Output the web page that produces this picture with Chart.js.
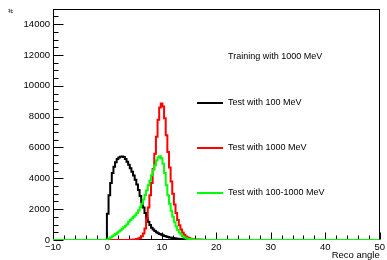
<!DOCTYPE html>
<html>
<head>
<meta charset="utf-8">
<script src="https://cdn.jsdelivr.net/npm/chart.js@4.4.1/dist/chart.umd.min.js"></script>
<style>
  html, body { margin: 0; padding: 0; background: #fff; }
  canvas { display: block; }
</style>
</head>
<body>
<canvas id="c" width="387" height="260"></canvas>
<script>
// histogram binning (Reco angle), fine bins starting just below 0
const binLow = -0.1;
const binWidth = 0.3;

// bin contents, bin 0 = [-0.1, 0.2]
const test100 = [1700, 2900, 3700, 4350, 4750, 5050, 5250, 5350, 5400, 5420,
  5380, 5250, 5080, 4880, 4650, 4420, 4180, 3900, 3600, 3250,
  2850, 2450, 2100, 1750, 1430, 1180, 970, 800, 680, 580,
  500, 440, 390, 340, 300, 260, 225, 195, 170, 148,
  128, 110, 95, 82, 71, 62, 54, 47, 41, 36,
  31, 27, 23, 20, 17, 15, 13, 11, 9, 8,
  7, 6, 5, 4, 4, 3, 3, 2, 2, 1, 1];

const test1000 = [0, 0, 0, 0, 0, 0, 0, 0, 0, 0,
  0, 0, 0, 5, 10, 15, 25, 40, 60, 90,
  150, 250, 420, 750, 1400, 2100, 2900, 3700, 4600, 5600,
  6700, 7800, 8600, 8850, 8650, 7900, 6800, 5700, 4700, 3800,
  3000, 2300, 1750, 1300, 950, 680, 480, 340, 235, 160,
  110, 75, 50, 33, 22, 15, 10, 6, 4, 2, 1];

const test100to1000 = [40, 100, 170, 240, 310, 390, 470, 550, 640, 730,
  820, 920, 1020, 1180, 1300, 1400, 1500, 1610, 1750, 1920,
  2120, 2350, 2620, 2920, 3230, 3550, 3850, 4200, 4550, 4850,
  5150, 5350, 5430, 5300, 4950, 4350, 3550, 2900, 2350, 1900,
  1500, 1150, 880, 650, 480, 350, 250, 175, 120, 85,
  60, 42, 30, 21, 15, 10, 7, 5, 3, 2, 1];

const seriesLabels = ["Test with 100 MeV", "Test with 1000 MeV", "Test with 100-1000 MeV"];
const seriesColors = ["#000000", "#ff0000", "#00ff00"];
const legendHeader = "Training with 1000 MeV";

// axis ranges and labelled ticks
const xMin = -10, xMax = 50;
const yMin = 0, yMax = 15000;
const xTickValues = [-10, 0, 10, 20, 30, 40, 50];
const yTickValues = [0, 2000, 4000, 6000, 8000, 10000, 12000, 14000];

const FONT = "'Liberation Sans', Arial, Helvetica, sans-serif";

// turn bin contents into step points spanning the whole axis
function histPoints(counts) {
  const pts = [{ x: xMin, y: 0 }];
  counts.forEach((c, i) => pts.push({ x: binLow + i * binWidth, y: c }));
  pts.push({ x: binLow + counts.length * binWidth, y: 0 });
  pts.push({ x: xMax, y: 0 });
  return pts;
}

// ROOT-like frame with inward ticks
const frameTicks = {
  id: "frameTicks",
  beforeDatasetsDraw(chart) {
    const { ctx, chartArea: a, scales } = chart;
    const sx = scales.x, sy = scales.y;
    ctx.save();
    ctx.strokeStyle = "#000";
    ctx.lineWidth = 1;
    const L = Math.round(a.left) + 0.5, R = Math.round(a.right) - 0.5;
    const T = Math.round(a.top) + 0.5, B = Math.round(a.bottom) - 0.5;
    ctx.strokeRect(L, T, R - L, B - T);
    ctx.beginPath();
    for (let v = yMin; v <= yMax; v += 500) {
      const y = Math.round(sy.getPixelForValue(v)) + 0.5;
      const len = v % 2000 === 0 ? 10 : 5;
      ctx.moveTo(L, y);
      ctx.lineTo(L + len, y);
    }
    for (let v = xMin; v <= xMax; v += 2) {
      const x = Math.round(sx.getPixelForValue(v)) + 0.5;
      const len = v % 10 === 0 ? 7 : 4;
      ctx.moveTo(x, B);
      ctx.lineTo(x, B - len);
    }
    ctx.stroke();
    ctx.restore();
  },
};

// TLegend-style box content
const rootLegend = {
  id: "rootLegend",
  afterDatasetsDraw(chart, args, opts) {
    const { ctx } = chart;
    ctx.save();
    ctx.font = "9px " + FONT;
    ctx.fillStyle = "#000";
    ctx.textBaseline = "middle";
    ctx.textAlign = "left";
    ctx.fillText(legendHeader, opts.textX, opts.headerY);
    chart.data.datasets.forEach((ds, i) => {
      const y = opts.rowY[i];
      ctx.strokeStyle = ds.borderColor;
      ctx.lineWidth = 2;
      ctx.beginPath();
      ctx.moveTo(opts.lineX0, y);
      ctx.lineTo(opts.lineX1, y);
      ctx.stroke();
      ctx.fillText(ds.label, opts.textX, y);
    });
    ctx.restore();
  },
};

const allCounts = [test100, test1000, test100to1000];

new Chart(document.getElementById("c"), {
  type: "line",
  data: {
    datasets: allCounts.map((counts, i) => ({
      label: seriesLabels[i],
      data: histPoints(counts),
      borderColor: seriesColors[i],
      borderWidth: 2,
      stepped: "before",
      pointRadius: 0,
      fill: false,
      tension: 0,
      order: 3 - i,
    })),
  },
  options: {
    responsive: false,
    animation: false,
    devicePixelRatio: 1,
    layout: { padding: { top: 5, right: 7, bottom: 0, left: 0 } },
    plugins: {
      legend: { display: false },
      tooltip: { enabled: false },
      rootLegend: { textX: 228, headerY: 57, lineX0: 197, lineX1: 223, rowY: [103, 148, 193] },
    },
    scales: {
      x: {
        type: "linear",
        min: xMin,
        max: xMax,
        grid: { display: false, drawTicks: false, tickLength: 0 },
        border: { display: false },
        afterBuildTicks: (s) => { s.ticks = xTickValues.map((v) => ({ value: v })); },
        ticks: {
          padding: 2,
          maxRotation: 0,
          autoSkip: false,
          color: "#000",
          font: { family: FONT, size: 9.5 },
          callback: (v) => (v < 0 ? "\u2212" + Math.abs(v) : String(v)),
        },
        title: {
          display: true,
          text: "Reco angle",
          align: "end",
          color: "#000",
          padding: 0,
          font: { family: FONT, size: 9.5, lineHeight: 1 },
        },
        afterFit: (s) => { s.height = 20; },
      },
      y: {
        min: yMin,
        max: yMax,
        grid: { display: false, drawTicks: false, tickLength: 0 },
        border: { display: false },
        afterBuildTicks: (s) => { s.ticks = yTickValues.map((v) => ({ value: v })); },
        ticks: {
          padding: 3,
          autoSkip: false,
          color: "#000",
          font: { family: FONT, size: 9.5 },
          callback: (v) => String(v),
        },
        title: {
          display: true,
          text: "#",
          align: "end",
          color: "#000",
          padding: { top: 6, bottom: 0 },
          font: { family: FONT, size: 8 },
        },
        afterFit: (s) => { s.width = 53; },
      },
    },
  },
  plugins: [frameTicks, rootLegend],
});
</script>
</body>
</html>
